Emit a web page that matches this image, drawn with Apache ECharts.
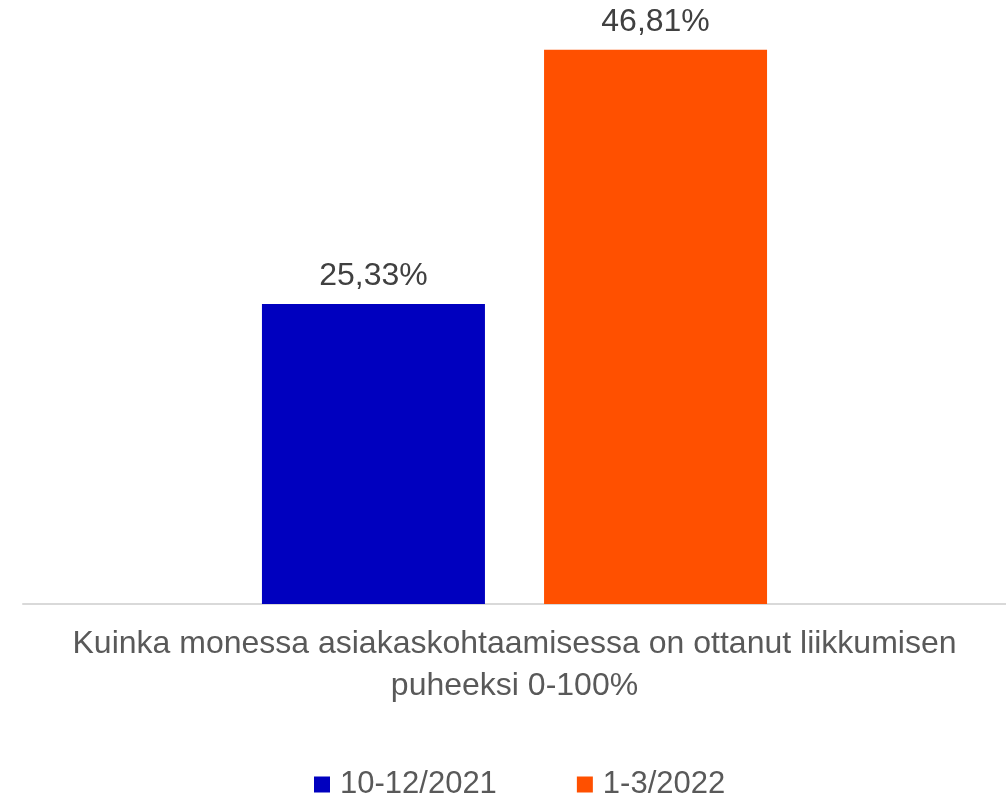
<!DOCTYPE html>
<html>
<head>
<meta charset="utf-8">
<script src="https://cdn.jsdelivr.net/npm/echarts@6/dist/echarts.min.js"></script>
<style>
  html, body { margin: 0; padding: 0; background: #fff; }
  #chart { width: 1006px; height: 796px; }
</style>
</head>
<body>
<div id="chart"></div>
<script>
// data
const categories = ["Kuinka monessa asiakaskohtaamisessa on ottanut liikkumisen\npuheeksi 0-100%"];
const seriesNames = ["10-12/2021", "1-3/2022"];
const values2021 = [25.33];
const values2022 = [46.81];
const colors = ["#0000BF", "#FF5000"];

const chart = echarts.init(document.getElementById("chart"));

const labelStyle = {
  show: true,
  position: "top",
  distance: 12,
  fontFamily: "Liberation Sans, Arial, sans-serif",
  fontSize: 32,
  color: "#404040",
  formatter: (p) => p.value.toFixed(2).replace(".", ",") + "%",
};

chart.setOption({
  animation: false,
  textStyle: { fontFamily: "Liberation Sans, Arial, sans-serif" },
  grid: { left: 23, right: 0, top: 12, bottom: 192, containLabel: false },
  legend: {
    top: 764,
    left: 309,
    itemWidth: 16,
    itemHeight: 16,
    itemGap: 80,
    icon: "rect",
    textStyle: { fontSize: 31, color: "#595959", padding: [0, 0, 0, 5] },
    data: seriesNames,
  },
  xAxis: {
    type: "category",
    data: categories,
    axisTick: { show: false },
    axisLine: { lineStyle: { color: "#D9D9D9", width: 2 } },
    axisLabel: {
      margin: 19,
      fontSize: 32,
      lineHeight: 42,
      color: "#595959",
      interval: 0,
    },
  },
  yAxis: {
    type: "value",
    min: 0,
    max: 50,
    show: false,
    splitLine: { show: false },
  },
  series: [
    {
      name: seriesNames[0],
      type: "bar",
      data: values2021,
      barWidth: 223,
      barGap: "26.5%",
      itemStyle: { color: colors[0] },
      label: labelStyle,
    },
    {
      name: seriesNames[1],
      type: "bar",
      data: values2022,
      barWidth: 223,
      barGap: "26.5%",
      itemStyle: { color: colors[1] },
      label: labelStyle,
    },
  ],
});
</script>
</body>
</html>
